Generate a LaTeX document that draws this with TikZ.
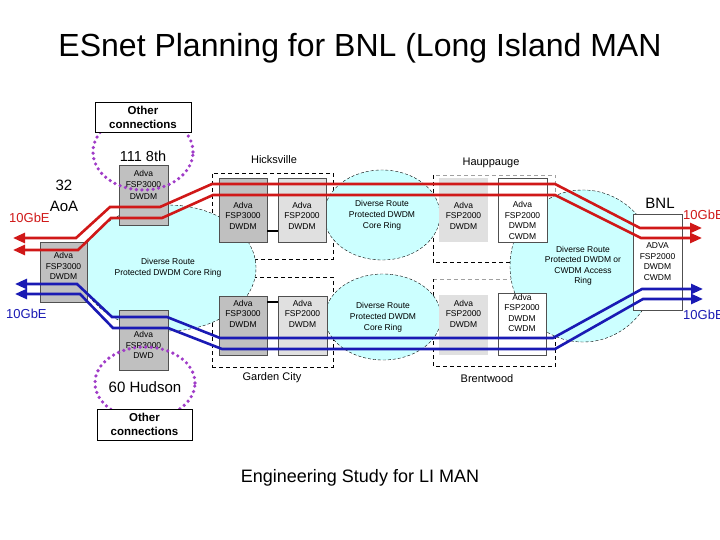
\documentclass[tikz,border=0pt]{standalone}
\usepackage{fontspec}
\setmainfont{Liberation Sans}
\usetikzlibrary{arrows.meta,positioning,shapes.geometric}
\definecolor{ringcyan}{HTML}{CCFFFF}
\definecolor{boxdark}{HTML}{C0C0C0}
\definecolor{boxlight}{HTML}{E0E0E0}
\definecolor{edgegray}{HTML}{505050}
\definecolor{sitegray}{HTML}{A0A0A0}
\definecolor{linkred}{HTML}{D01818}
\definecolor{linkblue}{HTML}{1A1AB4}
\definecolor{otherpurple}{HTML}{A03CC8}
\newcommand{\setfs}[2]{\fontsize{#1bp}{#2bp}\selectfont}

\begin{document}
\begin{tikzpicture}[
  x=1bp, y=-1bp,
  adva/.style={draw=edgegray,line width=0.5pt,inner sep=0pt},
  dark/.style={adva,fill=boxdark},
  light/.style={adva,fill=boxlight},
  bare/.style={adva,fill=white},
  flat/.style={fill=boxlight,inner sep=0pt},
  boxtext/.style={align=center,inner sep=0pt,font=\setfs{8.5}{10.5}},
  ring/.style={ellipse,fill=ringcyan,draw=black,line width=0.4pt,densely dashed,
    inner sep=0pt,align=center,font=\setfs{8.5}{11}},
  site/.style={draw=black,line width=0.6pt,dash pattern=on 4bp off 3bp,inner sep=0pt},
  sitebox/.style={inner sep=0pt},
  sitename/.style={font=\setfs{11}{13}},
  place/.style={align=center,font=\setfs{15}{21}},
  gbe/.style={anchor=west,inner sep=0pt,font=\setfs{13}{15}},
  tie/.style={draw=black,line width=1.6pt},
  link/.style={line width=2.6bp,{Triangle[length=12bp,width=10bp]}-{Triangle[length=12bp,width=10bp]}},
  dotring/.style={ellipse,draw=otherpurple,line width=3.6bp,line cap=round,
    dash pattern=on 0bp off 5.6bp,inner sep=0pt},
  other/.style={draw=black,fill=white,line width=0.6pt,inner sep=0pt,
    minimum width=96bp,minimum height=30bp,align=center,font=\bfseries\setfs{11.5}{14}}
]
\fill[white] (0,0) rectangle (720,540);
\useasboundingbox (0,0) rectangle (720,540);

% title
\node[font=\setfs{32}{38}] (title) at (360,48) {ESnet Planning for BNL (Long Island MAN};

% site outlines
\node[site,minimum width=121bp,minimum height=86bp] (hicks) at (272.5,216) {};
\node[site,minimum width=121bp,minimum height=90bp] (garden) at (272.5,322) {};
\node[sitebox,minimum width=122bp,minimum height=87bp] (haup) at (494,218.5) {};
\node[sitebox,minimum width=122bp,minimum height=87bp] (brent) at (494,322.5) {};
\draw[site,draw=sitegray] (haup.south east) -- (haup.north east) -- (haup.north west);
\draw[site] (haup.north west) -- (haup.south west) -- (haup.south east);
\draw[site,draw=sitegray] (brent.north west) -- (brent.north east);
\draw[site] (brent.north east) -- (brent.south east) -- (brent.south west) -- (brent.north west);

% rings
\node[ring,minimum width=176bp,minimum height=126bp] (ringW) at (168,268) {Diverse Route\\Protected DWDM Core Ring};
\node[ring,minimum width=116bp,minimum height=90bp] (ringN) at (382,215) {Diverse Route\\Protected DWDM\\Core Ring};
\node[ring,minimum width=116bp,minimum height=86bp] (ringS) at (383,317) {Diverse Route\\Protected DWDM\\Core Ring};
\node[ring,font=\setfs{8.5}{10.5},minimum width=146bp,minimum height=152bp] (ringE) at (583,266) {Diverse Route\\Protected DWDM or\\CWDM Access\\Ring};

% equipment
\node[dark,minimum width=47bp,minimum height=60bp] (aoa) at (63.5,272) {};
\node[dark,minimum width=49bp,minimum height=60bp] (eighth) at (143.5,195) {};
\node[dark,minimum width=49bp,minimum height=60bp] (hudson) at (143.5,340) {};
\node[dark,minimum width=48bp,minimum height=64bp] (hick1) at (243,210) {};
\node[light,minimum width=48bp,minimum height=64bp] (hick2) at (302,210) {};
\node[dark,minimum width=48bp,minimum height=59bp] (gard1) at (243,325.5) {};
\node[light,minimum width=49bp,minimum height=59bp] (gard2) at (302.5,325.5) {};
\node[flat,minimum width=49bp,minimum height=64bp] (haup1) at (463.5,210) {};
\node[bare,minimum width=49bp,minimum height=64bp] (haup2) at (522.5,210) {};
\node[flat,minimum width=49bp,minimum height=60bp] (brent1) at (463.5,325) {};
\node[bare,minimum width=48bp,minimum height=62bp] (brent2) at (522,324) {};
\node[bare,minimum width=49bp,minimum height=96bp] (bnl) at (657.5,262) {};

\node[boxtext] (aoat) at (63.5,266) {Adva\\FSP3000\\DWDM};
\node[boxtext,font=\setfs{8.5}{11.5}] (eightht) at (143.5,184.5) {Adva\\FSP3000\\DWDM};
\node[boxtext] (hudsont) at (143.5,345) {Adva\\FSP3000\\DWD};
\node[boxtext] (hick1t) at (243,215.5) {Adva\\FSP3000\\DWDM};
\node[boxtext] (hick2t) at (302,215.5) {Adva\\FSP2000\\DWDM};
\node[boxtext] (gard1t) at (243,313.5) {Adva\\FSP3000\\DWDM};
\node[boxtext] (gard2t) at (302.5,313.5) {Adva\\FSP2000\\DWDM};
\node[boxtext] (haup1t) at (463.5,215.5) {Adva\\FSP2000\\DWDM};
\node[boxtext] (haup2t) at (522.5,220.5) {Adva\\FSP2000\\DWDM\\CWDM};
\node[boxtext] (brent1t) at (463.5,313.5) {Adva\\FSP2000\\DWDM};
\node[boxtext] (brent2t) at (522,313) {Adva\\FSP2000\\DWDM\\CWDM};
\node[boxtext] (bnlt) at (657.5,261.5) {ADVA\\FSP2000\\DWDM\\CWDM};

\draw[tie] ([yshift=-21bp]hick1.east) -- ([yshift=-21bp]hick2.west);
\draw[tie] ([yshift=23.5bp]gard1.east) -- ([yshift=23.5bp]gard2.west);

% 10GbE links
\coordinate (redWa) at (13,238);
\coordinate (redWb) at (13,250);
\coordinate (redEa) at (702,228);
\coordinate (redEb) at (702,238);
\coordinate (blueWa) at (15,284);
\coordinate (blueWb) at (15,294);
\coordinate (blueEa) at (703,289);
\coordinate (blueEb) at (703,299);
\draw[link,draw=linkred] (redWa) -- (76,238) -- (110,207) -- (160,207) -- (212,184)
  -- (555,184) -- (640,228) -- (redEa);
\draw[link,draw=linkred] (redWb) -- (78,250) -- (111,218) -- (162,218) -- (213,195)
  -- (555,195) -- (641,238) -- (redEb);
\draw[link,draw=linkblue] (blueWa) -- (77,284) -- (112,317) -- (167,317) -- (220,338)
  -- (553,338) -- (642,289) -- (blueEa);
\draw[link,draw=linkblue] (blueWb) -- (80,294) -- (113,328) -- (168,328) -- (222,349)
  -- (555,349) -- (643,299) -- (blueEb);

% other connections
\node[dotring,minimum width=100bp,minimum height=76bp] (ring8th) at (143,152) {};
\node[dotring,minimum width=100bp,minimum height=72bp] (ringhud) at (145,383) {};
\node[other] (otherN) at (143,117) {Other\\connections};
\node[other,minimum width=95bp,minimum height=31bp] (otherS) at (144.5,424.5) {Other\\connections};

% labels
\node[font=\setfs{14.5}{17}] (lab8th) at (143,156) {111 8th};
\node[font=\setfs{15}{17}] (labhud) at (145,387) {60 Hudson};
\node[place] (labaoa) at (64,196) {32\\AoA};
\node[place] (labbnl) at (660,203) {BNL};
\node[sitename] (labhicks) at (274,160) {Hicksville};
\node[sitename] (labhaup) at (491,163) {Hauppauge};
\node[sitename] (labgarden) at (272,378) {Garden City};
\node[sitename] (labbrent) at (487,379) {Brentwood};
\node[gbe,text=linkred] (gbeRW) at (9,218) {10GbE};
\node[gbe,text=linkblue] (gbeBW) at (6,314) {10GbE};
\node[gbe,text=linkred] (gbeRE) at (683,215) {10GbE};
\node[gbe,text=linkblue] (gbeBE) at (683,315) {10GbE};
\node[font=\setfs{18}{21}] (study) at (360,478) {Engineering Study for LI MAN};
\end{tikzpicture}
\end{document}
